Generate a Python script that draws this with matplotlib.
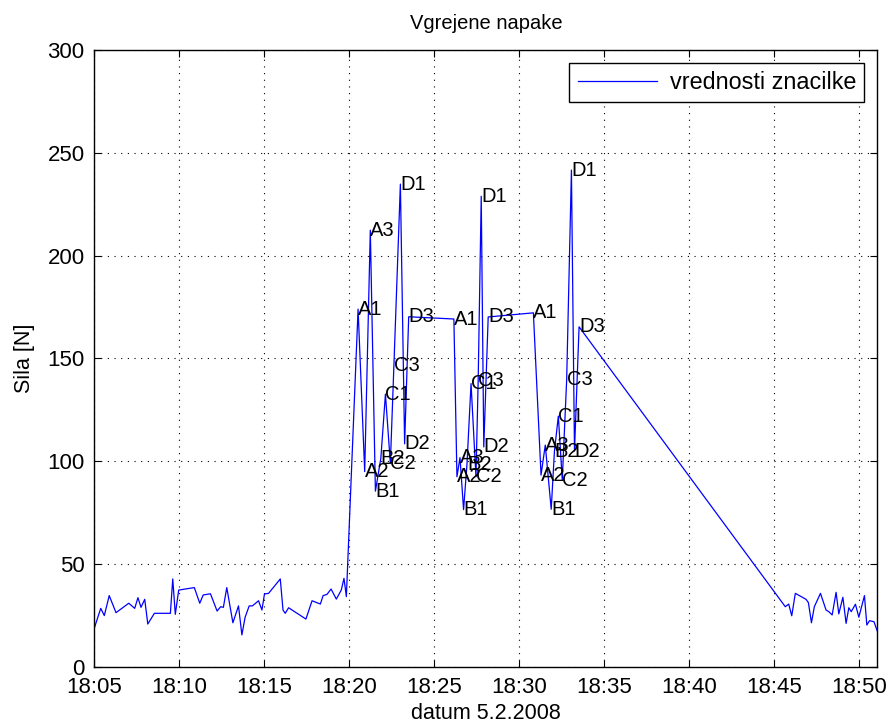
import datetime as dt
import numpy as np
import matplotlib
matplotlib.use("Agg")
import matplotlib.pyplot as plt
import matplotlib.dates as mdates

plt.rcParams['font.family'] = ['Liberation Sans', 'DejaVu Sans']

# minutes after 18:05 and force [N]
mir_pred_min = [0.00, 0.37, 0.58, 0.87, 1.27, 2.02, 2.37, 2.56, 2.74, 2.96, 3.14, 3.53,
                4.47, 4.61, 4.76, 4.96, 5.88, 6.20, 6.40, 6.83, 7.22, 7.43, 7.59, 7.79,
                8.15, 8.48, 8.68, 8.87, 9.11, 9.30, 9.66, 9.86, 10.01, 10.25, 10.94, 11.10,
                11.23, 11.43, 12.45, 12.81, 13.30, 13.46, 13.69, 13.93, 14.24, 14.53, 14.69,
                14.83]
mir_pred_sila = [19.1, 28.5, 25.0, 34.7, 26.4, 31.0, 28.5, 33.7, 29.0, 32.9, 20.9, 26.1,
                 26.1, 42.8, 25.6, 37.4, 38.6, 31.0, 35.0, 35.6, 27.2, 29.3, 29.0, 38.6,
                 21.5, 29.7, 15.6, 24.2, 29.7, 29.7, 32.2, 27.7, 35.5, 35.8, 42.8, 27.7,
                 26.1, 28.8, 23.3, 32.2, 30.6, 34.7, 35.3, 37.9, 33.0, 37.4, 43.1,
                 34.2]

napaka1_min = [15.52, 15.91, 16.24, 16.54, 16.86, 17.13, 17.42, 17.63, 18.01, 18.26, 18.50]
napaka1_sila = [174.0, 95.0, 212.4, 85.5, 101.5, 132.7, 99.0, 146.8, 234.8, 108.5, 170.3]

napaka2_min = [21.16, 21.34, 21.52, 21.73, 21.93, 22.17, 22.46, 22.59, 22.77, 22.92, 23.18]
napaka2_sila = [169.2, 92.5, 101.8, 76.5, 98.5, 137.8, 92.5, 139.2, 228.9, 107.0, 170.2]

napaka3_min = [25.84, 26.29, 26.54, 26.89, 27.08, 27.31, 27.54, 27.80, 28.08, 28.26, 28.53]
napaka3_sila = [172.2, 93.3, 107.9, 76.7, 105.0, 122.0, 90.9, 139.7, 241.6, 105.0, 165.4]

mir_po_min = [40.67, 40.87, 41.05, 41.26, 41.89, 42.03, 42.21, 42.38, 42.74, 43.07, 43.23,
              43.43, 43.66, 43.82, 44.06, 44.25, 44.41, 44.55, 44.80, 45.00, 45.33, 45.47,
              45.63, 45.89, 46.08]
mir_po_sila = [29.3, 30.6, 24.9, 35.8, 32.9, 31.3, 21.5, 29.3, 35.8, 27.7, 26.9,
               25.3, 36.3, 25.8, 33.9, 21.2, 28.8, 26.9, 30.5, 24.2, 34.7, 20.4,
               22.5, 22.0, 17.6]

oznake = ['A1', 'A2', 'A3', 'B1', 'B2', 'C1', 'C2', 'C3', 'D1', 'D2', 'D3']

zacetek = dt.datetime(2008, 2, 5, 18, 5)


def v_cas(minute):
    return [zacetek + dt.timedelta(minutes=m) for m in minute]


vse_min = mir_pred_min + napaka1_min + napaka2_min + napaka3_min + mir_po_min
vse_sila = mir_pred_sila + napaka1_sila + napaka2_sila + napaka3_sila + mir_po_sila
cas = v_cas(vse_min)

fig = plt.figure(figsize=(8.91, 7.26), dpi=100)
ax = fig.add_axes([0.106, 0.0813, 0.8785, 0.8498])

ax.plot(cas, vse_sila, color=(0, 0, 1), linewidth=0.9, label='vrednosti znacilke')

# oznake tock na vsaki napaki
for nap_min, nap_sila in [(napaka1_min, napaka1_sila), (napaka2_min, napaka2_sila),
                          (napaka3_min, napaka3_sila)]:
    for t, s, o in zip(v_cas(nap_min), nap_sila, oznake):
        ax.text(t, s, o, ha='left', va='center', fontsize=14.5, color='black')

ax.set_xlim(cas[0], cas[-1])
ax.set_ylim(0, 300)
ax.set_yticks(np.arange(0, 301, 50))
ax.xaxis.set_major_locator(mdates.MinuteLocator(byminute=range(0, 60, 5)))
ax.xaxis.set_major_formatter(mdates.DateFormatter('%H:%M'))

ax.grid(True, color='black', linestyle=(0, (1, 5)), linewidth=0.8)
ax.tick_params(direction='in', length=5, width=0.8, top=True, right=True,
               labelsize=16, pad=7)
for sp in ax.spines.values():
    sp.set_linewidth(1.0)

ax.set_title('Vgrejene napake', fontsize=14.5, pad=15)
ax.set_xlabel('datum 5.2.2008', fontsize=15.5, labelpad=4)
ax.set_ylabel('Sila [N]', fontsize=15.5, labelpad=9)

leg = ax.legend(loc='upper right', fontsize=16.8, fancybox=False, framealpha=1,
                edgecolor='black', handlelength=3.4, handletextpad=0.55,
                borderpad=0.35, borderaxespad=0.55)
leg.get_frame().set_linewidth(1.0)

fig.savefig('out.png', dpi=100)
